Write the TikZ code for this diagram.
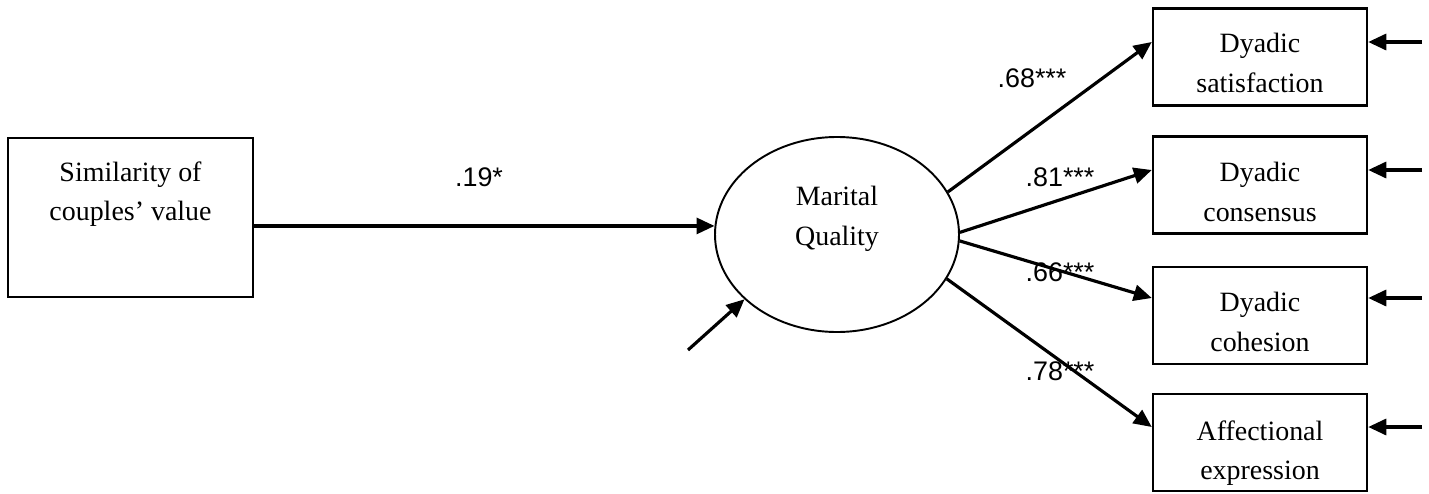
\documentclass[tikz,border=0pt]{standalone}
\usepackage{fontspec}
\setmainfont{Liberation Serif}
\newfontfamily\lblfont{Liberation Sans}
\usetikzlibrary{arrows.meta,shapes.geometric}

\begin{document}
\begin{tikzpicture}[
    box/.style={draw, line width=1.4pt, inner sep=0pt, minimum width=4.28cm, minimum height=1.94cm},
    txt/.style={anchor=north, inner sep=0pt, align=center, font=\fontsize{15.9}{22.7}\selectfont},
    lbl/.style={inner sep=0pt, font=\lblfont\fontsize{15.3}{18}\selectfont},
    arr/.style={line width=1.8pt, -{Triangle[length=0.36cm, width=0.32cm]}}]
  \useasboundingbox (0, 0) rectangle (28.58, 9.86);

  % predictor
  \node[box, minimum width=4.9cm, minimum height=3.18cm] (sim) at (2.61, 5.51) {};
  \node[txt] (simtxt) at (2.61, 6.64) {Similarity of\\couples' value};

  % latent
  \node[ellipse, draw, line width=1.1pt, inner sep=0pt, minimum width=4.88cm, minimum height=3.9cm] (mq) at (16.74, 5.17) {};
  \node[txt] (mqtxt) at (16.74, 6.14) {Marital\\Quality};
  \coordinate (err) at (13.76, 2.86);

  % indicators
  \node[box] (ds) at (25.2, 8.72) {};
  \node[txt] (dstxt) at (25.2, 9.20) {Dyadic\\satisfaction};
  \node[box] (dc) at (25.2, 6.16) {};
  \node[txt] (dctxt) at (25.2, 6.62) {Dyadic\\consensus};
  \node[box] (dh) at (25.2, 3.55) {};
  \node[txt] (dhtxt) at (25.2, 4.02) {Dyadic\\cohesion};
  \node[box] (ae) at (25.2, 1.01) {};
  \node[txt] (aetxt) at (25.2, 1.46) {Affectional\\expression};

  % residual ends
  \coordinate (e1) at (28.44, 9.02);
  \coordinate (e2) at (28.44, 6.46);
  \coordinate (e3) at (28.44, 3.90);
  \coordinate (e4) at (28.44, 1.32);

  % paths
  \draw[arr] (sim.east |- mq.176) -- (mq.176);
  \draw[arr] (err) -- (mq.215);
  \draw[arr] (mq.21) -- (ds.west |- e1);
  \draw[arr] (mq.1) -- (dc.west |- e2);
  \draw[arr] (mq.-3) -- (dh.west |- e3);
  \draw[arr] (mq.-22) -- (ae.west |- e4);
  \draw[arr] (e1) -- (ds.east |- e1);
  \draw[arr] (e2) -- (dc.east |- e2);
  \draw[arr] (e3) -- (dh.east |- e3);
  \draw[arr] (e4) -- (ae.east |- e4);

  % coefficients
  \node[lbl] (l19) at (9.58, 6.32) {.19*};
  \node[lbl] (l68) at (20.64, 8.30) {.68***};
  \node[lbl] (l81) at (21.2, 6.32) {.81***};
  \node[lbl] (l66) at (21.2, 4.42) {.66***};
  \node[lbl] (l78) at (21.2, 2.44) {.78***};
\end{tikzpicture}
\end{document}
